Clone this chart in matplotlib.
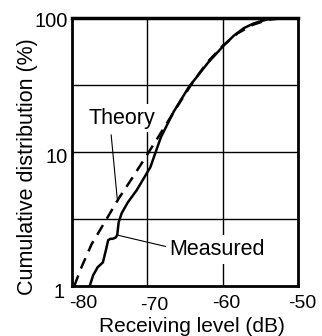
import matplotlib
matplotlib.use("Agg")
import matplotlib.pyplot as plt
from matplotlib.transforms import blended_transform_factory, offset_copy

plt.rcParams['font.family'] = ['Liberation Sans', 'DejaVu Sans']

# Data
theory_db = [-79.7, -78.7, -77.4, -75.5, -73.8, -72.0, -70.0, -68.0, -66.0, -64.0,
             -62.0, -60.0, -58.0, -56.0, -54.0, -52.0, -50.5]
theory_pct = [1.0, 1.4, 2.05, 3.1, 4.5, 6.4, 9.6, 14.5, 22.0, 33.0,
              47.0, 62.0, 77.0, 89.0, 97.0, 99.7, 100.0]

measured_db = [-77.6, -77.2, -76.6, -76.3, -75.9, -75.5, -75.2, -74.9, -74.6, -74.2, -74.0,
               -73.8, -73.4, -72.6, -71.4, -69.6, -68.2, -66.5, -64.5, -62.0, -59.9,
               -58.5, -57.2, -56.0, -54.9, -53.6, -52.0, -50.5]
measured_pct = [1.02, 1.2, 1.38, 1.43, 1.5, 1.85, 2.2, 2.25, 2.25, 2.3, 2.4,
                3.0, 3.5, 4.2, 5.2, 7.7, 12.9, 20.0, 30.5, 46.0, 62.0,
                74.0, 84.0, 90.5, 95.0, 98.8, 100.0, 100.0]

x_ticks = [-80, -70, -60, -50]
x_tick_labels = ['-80', '-70', '-60', '-50']
y_ticks = [1, 10, 100]
y_tick_labels = ['1', '10', '100']
y_minor_grid = [10 ** 0.5, 10 ** 1.5]

fig = plt.figure(figsize=(3.22, 3.36), dpi=100)
ax = fig.add_axes([0.2236, 0.1488, 0.7019, 0.7976])
ax.set_xlim(-80, -50)
ax.set_yscale('log')
ax.set_ylim(1, 100)

for xv in x_ticks[1:-1]:
    ax.axvline(xv, color='black', lw=1.0, zorder=1)
for yv in y_ticks[1:-1] + y_minor_grid:
    ax.axhline(yv, color='black', lw=1.0, zorder=1)

ax.plot(theory_db, theory_pct, color='black', lw=1.8, ls=(0, (4.5, 3)), zorder=3)
ax.plot(measured_db, measured_pct, color='black', lw=1.8, zorder=4)

ax.text(-73.4, 17.9, 'Theory', fontsize=15.5, ha='center', va='center', zorder=5,
        bbox=dict(facecolor='white', edgecolor='none', pad=2.5))
ax.plot([-74.8, -74.0], [13.4, 4.5], color='black', lw=0.8, zorder=2)

ax.text(-60.7, 1.86, 'Measured', fontsize=15.5, ha='center', va='center', zorder=5,
        bbox=dict(facecolor='white', edgecolor='none', pad=3))
ax.plot([-74.0, -67.2], [2.4, 1.95], color='black', lw=0.8, zorder=2)

ax.set_xticks([])
ax.set_yticks([])
ax.yaxis.set_minor_locator(matplotlib.ticker.NullLocator())

for s in ax.spines.values():
    s.set_linewidth(2.0)
ax.spines['top'].set_linewidth(2.5)

# tick labels as text
tx = blended_transform_factory(ax.transData, ax.transAxes)
x_offsets = [(11, -9), (7, -11), (3.5, -9), (4, -9)]
for v, lab, (dx, dy) in zip(x_ticks, x_tick_labels, x_offsets):
    ax.text(v, 0, lab, fontsize=14, ha='center', va='top',
            transform=offset_copy(tx, fig=fig, x=dx, y=dy, units='dots'))
ty = blended_transform_factory(ax.transAxes, ax.transData)
y_offsets = [(-7, -6.5), (-4, -5), (-4, -3)]
for v, lab, (dx, dy) in zip(y_ticks, y_tick_labels, y_offsets):
    ax.text(0, v, lab, fontsize=14.5, ha='right', va='center',
            transform=offset_copy(ty, fig=fig, x=dx, y=dy, units='dots'))

fig.text(27.5 / 322, 1 - 167 / 336, 'Cumulative distribution (%)', fontsize=15.5,
         rotation=90, ha='center', va='center')
fig.text(191.5 / 322, 1 - 326 / 336, 'Receiving level (dB)', fontsize=15,
         ha='center', va='center')

fig.savefig('out.png', dpi=100)
